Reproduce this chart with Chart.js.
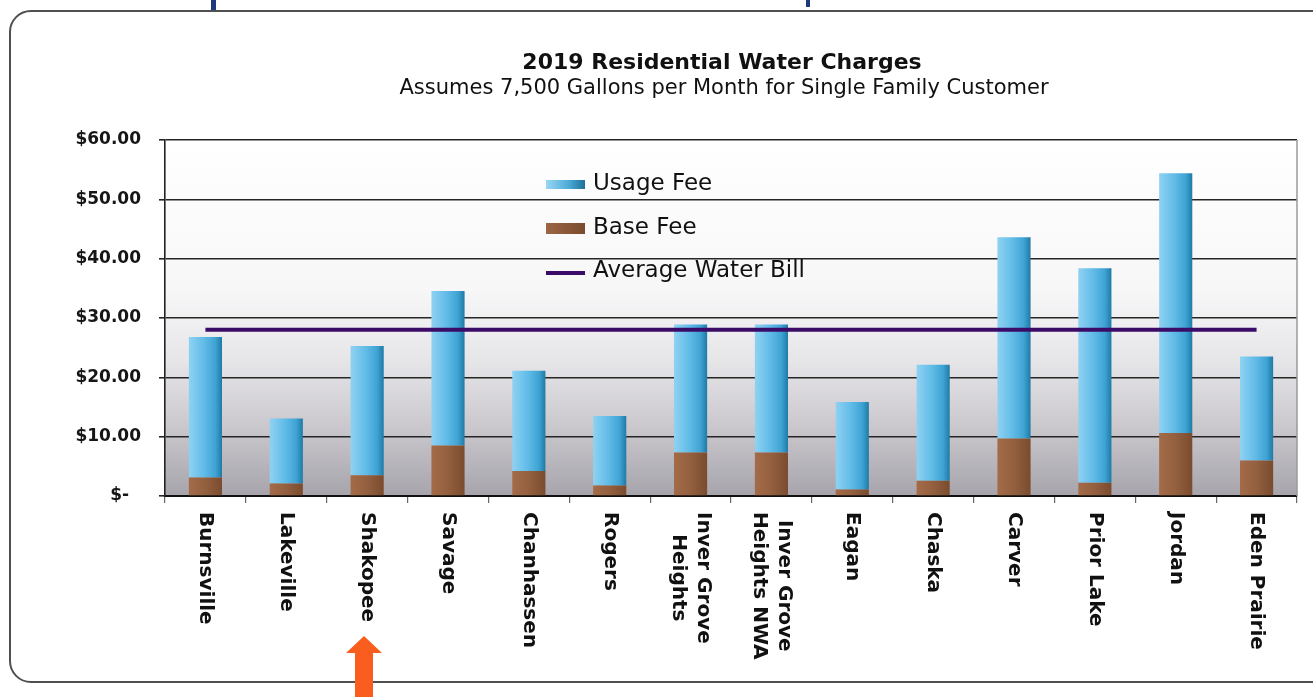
<!DOCTYPE html>
<html><head><meta charset="utf-8">
<script src="https://cdn.jsdelivr.net/npm/chart.js@4.4.1/dist/chart.umd.min.js"></script>
<style>
html,body{margin:0;padding:0;background:#fff;width:1313px;height:697px;overflow:hidden;}
#frame{position:absolute;left:9px;top:10px;width:1360px;height:673px;border:2px solid #505050;border-radius:22px;box-sizing:border-box;}
#wrap{position:absolute;left:0;top:0;width:1313px;height:697px;}
#arrow{position:absolute;left:343px;top:636px;}
.frag{position:absolute;background:#1d3a7c;}
</style></head><body>
<div id="frame"></div>
<div class="frag" style="left:211px;top:0;width:5px;height:10px"></div>
<div class="frag" style="left:806px;top:0;width:4px;height:7px"></div>
<div id="wrap"><canvas id="c" width="1313" height="697"></canvas></div>
<svg id="arrow" width="42" height="61"><polygon points="21,0 39,17 30,17 30,61 12,61 12,17 3,17" fill="#fa5e1e"/></svg>
<script>
const categories = [['Burnsville'],['Lakeville'],['Shakopee'],['Savage'],['Chanhassen'],['Rogers'],['Inver Grove','Heights'],['Inver Grove','Heights NWA'],['Eagan'],['Chaska'],['Carver'],['Prior Lake'],['Jordan'],['Eden Prairie']];
const usageFee = [23.7, 10.95, 21.8, 26.05, 16.9, 11.75, 21.55, 21.55, 14.75, 19.55, 33.9, 36.15, 43.8, 17.5];
const baseFee = [3.1, 2.1, 3.5, 8.5, 4.2, 1.75, 7.35, 7.35, 1.1, 2.55, 9.7, 2.25, 10.6, 6.0];
const averageBill = [28.0, 28.0, 28.0, 28.0, 28.0, 28.0, 28.0, 28.0, 28.0, 28.0, 28.0, 28.0, 28.0, 28.0];
const yTickValues = [0, 10, 20, 30, 40, 50, 60];
const yTickLabels = ['$-  ', '$10.00', '$20.00', '$30.00', '$40.00', '$50.00', '$60.00'];
const titleText = '2019 Residential Water Charges';
const subtitleText = 'Assumes 7,500 Gallons per Month for Single Family Customer';
const legendLabels = ['Usage Fee', 'Base Fee', 'Average Water Bill'];

const FONT = '"DejaVu Sans", "Liberation Sans", Arial, sans-serif';
const BAR_PCT = 0.41;

function barGradient(context, stops, fallback) {
  const chart = context.chart;
  if (!chart.chartArea || !chart.scales.x) return fallback;
  const xs = chart.scales.x;
  const cx = xs.getPixelForValue(context.dataIndex);
  const w = (xs.width / categories.length) * BAR_PCT;
  const g = chart.ctx.createLinearGradient(cx - w / 2, 0, cx + w / 2, 0);
  stops.forEach(s => g.addColorStop(s[0], s[1]));
  return g;
}
const blueStops = [[0, '#8fd2f2'], [0.45, '#62bce8'], [0.8, '#3fa3d3'], [1, '#1f7aa6']];
const brownStops = [[0, '#a46b48'], [0.5, '#93603f'], [1, '#7a4b2e']];

const bgPlugin = {
  id: 'bg',
  beforeDraw(chart) {
    const {ctx, chartArea: a} = chart;
    const g = ctx.createLinearGradient(0, a.top, 0, a.bottom);
    g.addColorStop(0, '#ffffff');
    g.addColorStop(0.42, '#f7f7f8');
    g.addColorStop(0.62, '#e6e5e8');
    g.addColorStop(0.8, '#cbc9ce');
    g.addColorStop(1, '#a7a4ac');
    ctx.save();
    ctx.fillStyle = g;
    ctx.fillRect(a.left, a.top, a.right - a.left, a.bottom - a.top);
    ctx.restore();
  }
};

const decoPlugin = {
  id: 'deco',
  afterDraw(chart) {
    const {ctx, chartArea: a, scales} = chart;
    ctx.save();
    // right border of plot
    ctx.strokeStyle = '#9a9a9a';
    ctx.lineWidth = 1.5;
    ctx.beginPath(); ctx.moveTo(a.right, a.top); ctx.lineTo(a.right, a.bottom); ctx.stroke();
    // titles
    ctx.fillStyle = '#111';
    ctx.textAlign = 'center';
    ctx.textBaseline = 'middle';
    ctx.font = 'bold 22px ' + FONT;
    ctx.fillText(titleText, 722, 63);
    ctx.font = '21px ' + FONT;
    ctx.fillText(subtitleText, 724, 89);
    // legend
    const lx = 546, lw = 39, tx = 593;
    const rows = [184, 228, 271];
    let g = ctx.createLinearGradient(lx, 0, lx + lw, 0);
    g.addColorStop(0, '#9ad6f3'); g.addColorStop(0.6, '#4aa9d6'); g.addColorStop(1, '#1f6f96');
    ctx.fillStyle = g; ctx.fillRect(lx, rows[0] - 4, lw, 9);
    g = ctx.createLinearGradient(lx, 0, lx + lw, 0);
    g.addColorStop(0, '#9c6645'); g.addColorStop(1, '#7a4b2e');
    ctx.fillStyle = g; ctx.fillRect(lx, rows[1] - 5, lw, 11);
    ctx.strokeStyle = '#3b0b68'; ctx.lineWidth = 4;
    ctx.beginPath(); ctx.moveTo(lx, rows[2] + 2); ctx.lineTo(lx + lw, rows[2] + 2); ctx.stroke();
    ctx.fillStyle = '#111';
    ctx.font = '23px ' + FONT;
    ctx.textAlign = 'left';
    legendLabels.forEach((t, i) => ctx.fillText(t, tx, rows[i]));
    // x labels, rotated clockwise
    ctx.font = 'bold 20px ' + FONT;
    ctx.textBaseline = 'middle';
    ctx.textAlign = 'center';
    const xs = scales.x;
    const top = a.bottom + 16;
    categories.forEach((lines, i) => {
      const cx = xs.getPixelForValue(i);
      const maxW = Math.max(...lines.map(l => ctx.measureText(l).width));
      ctx.save();
      ctx.translate(cx, top);
      ctx.rotate(Math.PI / 2);
      const n = lines.length, lh = 25;
      lines.forEach((l, j) => {
        ctx.fillText(l, maxW / 2, -((n - 1) / 2 - j) * lh);
      });
      ctx.restore();
    });
    ctx.restore();
  }
};

new Chart(document.getElementById('c'), {
  data: {
    labels: categories,
    datasets: [
      {type: 'bar', label: legendLabels[1], data: baseFee, order: 2,
       backgroundColor: c => barGradient(c, brownStops, '#8f5c3c'),
       barPercentage: BAR_PCT, categoryPercentage: 1},
      {type: 'bar', label: legendLabels[0], data: usageFee, order: 2,
       backgroundColor: c => barGradient(c, blueStops, '#5bb8e5'),
       barPercentage: BAR_PCT, categoryPercentage: 1},
      {type: 'line', label: legendLabels[2], data: averageBill, order: 0,
       borderColor: '#3b0b68', borderWidth: 4, pointRadius: 0, fill: false, tension: 0}
    ]
  },
  options: {
    responsive: false,
    animation: false,
    devicePixelRatio: 1,
    layout: {padding: {left: 0, top: 140, right: 16, bottom: 0}},
    plugins: {legend: {display: false}, tooltip: {enabled: false}, title: {display: false}},
    scales: {
      x: {
        stacked: true,
        offset: true,
        grid: {offset: true, drawOnChartArea: false, drawTicks: true, tickLength: 7, color: '#666', lineWidth: 1.2},
        border: {display: true, color: '#111', width: 2},
        ticks: {display: false},
        afterFit: s => { s.height = 201; }
      },
      y: {
        stacked: true,
        min: 0, max: 60,
        afterBuildTicks: s => { s.ticks = yTickValues.map(v => ({value: v})); },
        ticks: {
          callback: v => yTickLabels[yTickValues.indexOf(v)],
          font: {family: FONT, size: 17, weight: 'bold'},
          color: '#161616',
          padding: 18
        },
        grid: {color: '#262626', lineWidth: 1.6, tickLength: 6},
        border: {display: true, color: '#222', width: 1.6},
        afterFit: s => { s.width = 165; }
      }
    }
  },
  plugins: [bgPlugin, decoPlugin]
});
</script>
</body></html>
